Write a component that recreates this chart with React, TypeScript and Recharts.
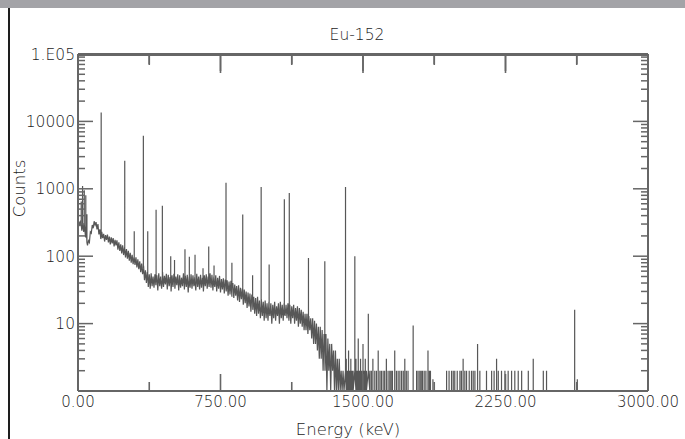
import { LineChart, Line, XAxis, YAxis, Label } from "recharts"

// continuum counts, one sample every ENERGY_STEP keV starting at 0 keV
const ENERGY_STEP = 5
const continuum = [
  250, 330, 280, 340, 240, 300, 230, 260, 190, 210, 145, 170, 160, 230, 220, 290, 260, 330, 290, 320,
  250, 300, 210, 250, 180, 230, 185, 215, 165, 205, 175, 210, 160, 195, 150, 190, 155, 185, 140, 175,
  145, 172, 125, 160, 120, 150, 110, 145, 104, 135, 96, 128, 92, 120, 86, 112, 80, 105, 76, 98,
  74, 96, 68, 90, 64, 84, 58, 78, 54, 72, 44, 62, 40, 58, 35, 54, 33, 56, 36, 50,
  34, 54, 37, 52, 31, 56, 36, 50, 33, 58, 35, 51, 38, 55, 32, 53, 36, 49, 30, 52,
  35, 55, 33, 50, 37, 54, 31, 52, 34, 48, 36, 56, 32, 51, 35, 53, 29, 50, 34, 54,
  33, 52, 36, 49, 31, 55, 35, 50, 32, 53, 34, 48, 30, 52, 36, 54, 33, 50, 35, 56,
  34, 53, 31, 50, 35, 52, 30, 48, 33, 51, 29, 46, 32, 47, 28, 45, 30, 44, 26, 42,
  27, 43, 25, 40, 24, 38, 26, 36, 22, 37, 21, 34, 23, 33, 19, 32, 20, 30, 17, 29,
  18, 28, 15, 27, 16, 25, 14, 24, 13, 25, 14, 22, 12, 23, 13, 21, 11, 22, 12, 20,
  11, 21, 13, 20, 10, 19, 12, 21, 11, 18, 13, 20, 10, 21, 12, 19, 11, 20, 13, 19,
  12, 20, 11, 19, 10, 18, 12, 19, 10, 17, 11, 18, 9, 17, 10, 16, 9, 15, 8, 14,
  8, 14, 7, 13, 8, 12, 6, 12, 5, 11, 5, 10, 4, 9, 3, 9, 3, 8, 2, 7,
  2, 7, 1, 6, 2, 5, 1, 5, 2, 4, 1, 4, 1, 3, 1, 3, 1, 2, 1, 2,
  1,
]

// photopeaks: [energy keV, peak counts, counts at the foot]
const peaks: [number, number, number][] = [
  [17, 650, 300], [24, 1100, 300], [33, 950, 300], [41, 800, 240], [47, 420, 160],
  [122, 13500, 190], [246, 2600, 130], [296, 235, 95], [344, 6100, 66], [367, 235, 50],
  [411, 490, 45], [444, 560, 45], [488, 100, 45], [508, 88, 45], [563, 127, 44],
  [586, 98, 43], [616, 105, 42], [658, 66, 42], [688, 139, 42], [716, 73, 42],
  [779, 1230, 38], [810, 80, 34], [867, 415, 28], [919, 52, 22], [964, 1065, 18],
  [1006, 75, 16], [1086, 700, 15], [1112, 870, 15], [1213, 94, 10], [1299, 84, 4],
  [1408, 1065, 2], [1457, 100, 2], [1528, 14, 2], [1764, 9.4, 1], [2614, 16, 1],
]

// low-count channels above the Compton edge: [energy keV, counts]
const sparse: [number, number][] = [
  [1412, 3], [1418, 2], [1424, 4], [1430, 2], [1436, 3], [1442, 2], [1448, 2], [1463, 3],
  [1469, 2], [1475, 6], [1481, 2], [1487, 3], [1493, 2], [1500, 5], [1506, 2], [1512, 3],
  [1518, 2], [1536, 2], [1544, 2], [1552, 3], [1562, 2], [1571, 2], [1580, 4], [1589, 2],
  [1597, 2], [1606, 2], [1614, 2], [1623, 3], [1632, 2], [1641, 2], [1648, 2], [1655, 2],
  [1667, 4], [1676, 2], [1685, 2], [1694, 2], [1703, 2], [1712, 2], [1720, 3], [1728, 2],
  [1737, 2], [1782, 2], [1790, 2], [1799, 2], [1806, 2], [1813, 2], [1822, 2], [1831, 2],
  [1842, 4], [1849, 2], [1855, 2], [1868, 1.5], [1940, 2], [1953, 2], [1966, 2], [1975, 2],
  [1983, 2], [1996, 2], [2010, 2], [2018, 2], [2027, 3], [2036, 2], [2045, 2], [2059, 2],
  [2071, 2], [2080, 2], [2089, 2], [2103, 5], [2115, 2], [2150, 2], [2177, 2], [2190, 2],
  [2203, 3], [2212, 2], [2229, 2], [2247, 2], [2264, 2], [2282, 2], [2299, 2], [2317, 2],
  [2335, 2], [2370, 2], [2396, 3], [2449, 2], [2466, 2], [2628, 1.5],
]

const xMinorTicks = [375, 1125, 1875, 2625]
const xMajorTicks = [0, 750, 1500, 2250, 3000]
const xTicks = [0, 375, 750, 1125, 1500, 1875, 2250, 2625, 3000]
const decades = [1, 10, 100, 1000, 10000, 100000]
const decadeLabels = ["", "10", "100", "1000", "10000", "1.E05"]
const yTicks = [
  1, 2, 3, 4, 5, 6, 7, 8, 9,
  10, 20, 30, 40, 50, 60, 70, 80, 90,
  100, 200, 300, 400, 500, 600, 700, 800, 900,
  1000, 2000, 3000, 4000, 5000, 6000, 7000, 8000, 9000,
  10000, 20000, 30000, 40000, 50000, 60000, 70000, 80000, 90000,
  100000,
]

const rows: { e: number; c: number }[] = []
continuum.forEach((c, i) => rows.push({ e: i * ENERGY_STEP, c }))
peaks.forEach(([e, top, foot]) => rows.push({ e, c: foot }, { e, c: top }, { e, c: foot }))
sparse.forEach(([e, c]) => rows.push({ e, c: 1 }, { e, c }, { e, c: 1 }))
rows.sort((a, b) => a.e - b.e)

const PLOT_TOP = 56
const AXIS = "#666"
const INK = "#1c1c1c"
const FONT = "'DejaVu Sans', sans-serif"

const BottomTick = ({ x, y, payload }: any) => {
  const major = payload.value % 750 === 0
  const len = major ? 17 : 9
  return (
    <g>
      <line x1={x} x2={x} y1={y} y2={y - len} stroke={AXIS} strokeWidth={1.6} />
      <line x1={x} x2={x} y1={PLOT_TOP} y2={PLOT_TOP + len} stroke={AXIS} strokeWidth={1.6} />
      {major && (
        <text x={x} y={y + 16} textAnchor="middle" fontSize={15} fontWeight={200} fill={INK} fontFamily={FONT}>
          {payload.value.toFixed(2)}
        </text>
      )}
    </g>
  )
}

const NoLabel = () => <g />

const LeftTick = ({ x, y, payload }: any) => {
  const i = decades.indexOf(payload.value)
  return (
    <g>
      <line x1={x} x2={x + (i >= 0 ? 15 : 7)} y1={y} y2={y} stroke={AXIS} strokeWidth={1.5} />
      {i > 0 ? (
        <text x={x - 3} y={y + 5.5} textAnchor="end" fontSize={15.5} fontWeight={200} fill={INK} fontFamily={FONT}>
          {decadeLabels[i]}
        </text>
      ) : null}
    </g>
  )
}

const RightTick = ({ x, y, payload }: any) => {
  const major = decades.includes(payload.value)
  return <line x1={x} x2={x - (major ? 15 : 7)} y1={y} y2={y} stroke={AXIS} strokeWidth={1.5} />
}

const CountsLabel = ({ viewBox }: any) => {
  const cx = viewBox.x + 19
  const cy = viewBox.y + viewBox.height / 2 - 34
  return (
    <text x={cx} y={cy} transform={`rotate(-90 ${cx} ${cy})`} textAnchor="middle" dominantBaseline="central"
      fontSize={16.5} fontWeight={200} fill={INK} fontFamily={FONT}>
      Counts
    </text>
  )
}

export default function App() {
  return (
    <div style={{ position: "absolute", left: 0, top: 0, width: 685, height: 439, background: "#fff", overflow: "hidden" }}>
      <div style={{ position: "absolute", left: 0, top: 0, width: 685, height: 8, background: "#a3a3a7" }} />
      <div style={{ position: "absolute", left: 8, top: 8, width: 2, height: 431, background: "#1e1e1e" }} />
      <LineChart width={685} height={439} data={rows} margin={{ top: PLOT_TOP - 2, right: 36, bottom: 18, left: 0 }}>
        <XAxis xAxisId="bottom" dataKey="e" type="number" domain={[0, 3000]} ticks={xTicks} interval={0}
          allowDataOverflow height={30} tickSize={0} tickMargin={0} tickLine={false} tick={<BottomTick />}
          axisLine={{ stroke: AXIS, strokeWidth: 2 }}>
          <Label value="Energy (keV)" position="bottom" offset={2} dx={-15} fontSize={16.5} fontWeight={200}
            fill={INK} fontFamily={FONT} />
        </XAxis>
        <XAxis xAxisId="top" orientation="top" dataKey="e" type="number" domain={[0, 3000]} allowDataOverflow
          height={1} ticks={xMajorTicks} interval={0} tick={<NoLabel />} mirror tickSize={17}
          tickLine={{ stroke: AXIS, strokeWidth: 1.6 }} axisLine={{ stroke: AXIS, strokeWidth: 2 }}>
          <Label value="Eu-152" position="top" offset={14} dx={-6} fontSize={15.5} fontWeight={200}
            fill={INK} fontFamily={FONT} />
        </XAxis>
        <XAxis xAxisId="topMinor" orientation="top" dataKey="e" type="number" domain={[0, 3000]} allowDataOverflow
          height={1} ticks={xMinorTicks} interval={0} tick={<NoLabel />} mirror tickSize={9}
          tickLine={{ stroke: AXIS, strokeWidth: 1.6 }} axisLine={{ stroke: AXIS, strokeWidth: 2 }} />
        <YAxis yAxisId="left" scale="log" type="number" domain={[1, 100000]} ticks={yTicks} tickCount={50}
          interval={0} minTickGap={0} allowDataOverflow width={78} tickSize={0} tickMargin={0} tickLine={false}
          tick={<LeftTick />} axisLine={{ stroke: AXIS, strokeWidth: 2 }}>
          <Label content={<CountsLabel />} />
        </YAxis>
        <YAxis yAxisId="right" orientation="right" scale="log" type="number" domain={[1, 100000]} ticks={yTicks}
          tickCount={50} interval={0} minTickGap={0} allowDataOverflow width={1} tickSize={0} tickMargin={0}
          tickLine={false} tick={<RightTick />} axisLine={{ stroke: AXIS, strokeWidth: 2 }} />
        <Line xAxisId="top" yAxisId="right" dataKey="c" type="linear" stroke="none" dot={false} activeDot={false}
          legendType="none" isAnimationActive={false} />
        <Line xAxisId="topMinor" yAxisId="right" dataKey="c" type="linear" stroke="none" dot={false}
          activeDot={false} legendType="none" isAnimationActive={false} />
        <Line xAxisId="bottom" yAxisId="left" dataKey="c" type="linear" stroke="#575757" strokeWidth={1.2}
          dot={false} activeDot={false} isAnimationActive={false} />
      </LineChart>
    </div>
  )
}
